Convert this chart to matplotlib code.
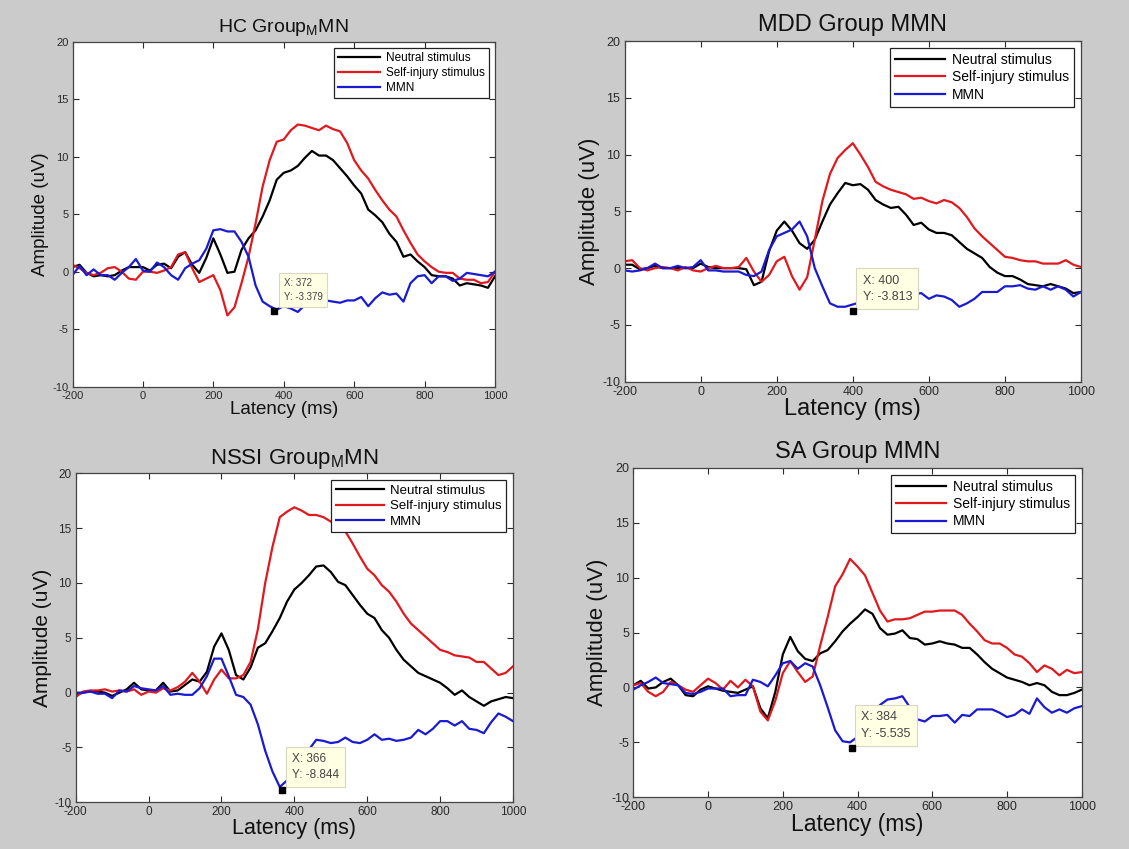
import matplotlib
matplotlib.use("Agg")
import matplotlib.pyplot as plt

plt.rcParams['font.family'] = ['Liberation Sans', 'DejaVu Sans']
plt.rcParams['axes.unicode_minus'] = False

# ---------------- data ----------------
latency_ms = list(range(-200, 1001, 20))
x_ticks = [-200, 0, 200, 400, 600, 800, 1000]
y_ticks = [-10, -5, 0, 5, 10, 15, 20]
series_labels = ["Neutral stimulus", "Self-injury stimulus", "MMN"]
panel_titles = ["HC Group$_\\mathregular{M}$MN", "MDD Group MMN",
                "NSSI Group$_\\mathregular{M}$MN", "SA Group MMN"]

hc_neutral = [0.4, 0.6, -0.1, -0.4, -0.3, -0.4, -0.3, 0.1, 0.4, 0.4,
              0.4, 0.1, 0.6, 0.7, 0.3, 1.3, 1.7, 0.6, -0.1, 1.2,
              2.9, 1.5, -0.1, 0.0, 1.9, 2.9, 3.6, 4.8, 6.2, 8.0,
              8.6, 8.8, 9.2, 9.9, 10.5, 10.1, 10.1, 9.7, 9.0, 8.3,
              7.5, 6.8, 5.4, 4.9, 4.3, 3.3, 2.6, 1.3, 1.5, 0.9,
              0.4, -0.3, -0.4, -0.4, -0.6, -1.2, -1.0, -1.1, -1.2, -1.4,
              -0.4]
hc_selfinjury = [0.6, 0.3, -0.1, -0.3, -0.1, 0.3, 0.4, 0.0, -0.6, -0.7,
                 0.0, 0.0, -0.1, 0.1, 0.4, 1.5, 1.7, 0.3, -0.9, -0.6,
                 -0.3, -1.6, -3.8, -3.1, -1.0, 1.3, 4.2, 7.4, 9.7, 11.3,
                 11.5, 12.3, 12.8, 12.7, 12.5, 12.3, 12.7, 12.4, 12.2, 11.2,
                 9.7, 8.8, 8.1, 7.1, 6.2, 5.4, 4.8, 3.6, 2.5, 1.5,
                 0.9, 0.4, 0.0, -0.1, -0.1, -0.6, -0.7, -0.7, -1.0, -0.9,
                 0.0]
hc_mmn = [-0.3, 0.5, -0.3, 0.2, -0.3, -0.3, -0.7, -0.1, 0.4, 1.1,
          0.1, 0.0, 0.8, 0.4, -0.3, -0.7, 0.3, 0.7, 1.0, 2.0,
          3.6, 3.7, 3.5, 3.5, 2.6, 1.3, -1.2, -2.6, -3.0, -3.3,
          -3.0, -3.2, -3.5, -2.9, -2.7, -2.6, -2.5, -2.6, -2.7, -2.5,
          -2.5, -2.2, -3.0, -2.3, -1.8, -2.0, -1.9, -2.6, -1.0, -0.4,
          -0.3, -1.0, -0.4, -0.4, -0.8, -0.6, -0.1, -0.2, -0.3, -0.4,
          0.0]

mdd_neutral = [0.3, 0.3, -0.1, 0.0, 0.2, 0.0, 0.0, 0.0, 0.0, 0.0,
               0.4, 0.1, 0.0, 0.0, 0.0, 0.0, -0.1, -1.5, -1.2, 1.5,
               3.3, 4.1, 3.3, 2.2, 1.7, 2.5, 4.1, 5.6, 6.6, 7.5,
               7.3, 7.4, 6.9, 6.0, 5.6, 5.3, 5.4, 4.7, 3.8, 4.0,
               3.4, 3.1, 3.1, 2.9, 2.3, 1.7, 1.3, 0.9, 0.1, -0.4,
               -0.7, -0.7, -1.0, -1.4, -1.5, -1.6, -1.4, -1.6, -1.8, -2.2,
               -2.1]
mdd_selfinjury = [0.6, 0.7, 0.0, -0.2, 0.0, 0.1, 0.0, -0.2, 0.1, -0.2,
                  -0.3, 0.0, 0.2, 0.0, 0.0, 0.1, 0.9, -0.3, -1.2, -0.6,
                  0.6, 1.0, -0.7, -1.9, -0.8, 2.5, 5.9, 8.3, 9.7, 10.4,
                  11.0, 10.0, 8.9, 7.6, 7.2, 6.9, 6.7, 6.5, 6.1, 6.2,
                  5.9, 5.7, 6.0, 5.8, 5.3, 4.5, 3.5, 2.8, 2.2, 1.6,
                  1.0, 0.9, 0.7, 0.6, 0.6, 0.4, 0.4, 0.4, 0.7, 0.3,
                  0.1]
mdd_mmn = [-0.2, -0.3, -0.2, 0.0, 0.4, 0.0, 0.0, 0.2, 0.0, 0.1,
           0.7, -0.2, -0.2, -0.3, -0.3, -0.3, -0.6, -0.7, -0.3, 1.6,
           2.8, 3.1, 3.4, 4.1, 2.8, 0.0, -1.6, -3.1, -3.4, -3.4,
           -3.2, -3.0, -2.8, -2.6, -2.5, -2.4, -2.6, -2.4, -2.3, -2.2,
           -2.7, -2.4, -2.5, -2.8, -3.4, -3.1, -2.7, -2.1, -2.1, -2.1,
           -1.6, -1.6, -1.5, -1.8, -1.9, -1.6, -1.9, -1.6, -1.9, -2.5,
           -2.1]

nssi_neutral = [-0.2, 0.0, 0.1, 0.1, 0.0, -0.3, 0.0, 0.3, 0.9, 0.3,
                0.2, 0.2, 0.9, 0.1, 0.2, 0.7, 1.2, 1.0, 1.9, 4.2,
                5.4, 3.9, 1.6, 1.2, 2.3, 4.1, 4.5, 5.6, 6.8, 8.3,
                9.4, 10.0, 10.7, 11.5, 11.6, 11.0, 10.1, 9.8, 8.9, 8.0,
                7.2, 6.8, 5.7, 5.0, 3.9, 3.0, 2.4, 1.8, 1.5, 1.2,
                0.9, 0.4, -0.2, 0.2, -0.4, -0.8, -1.2, -0.8, -0.6, -0.4,
                -0.5]
nssi_selfinjury = [-0.4, 0.1, 0.2, 0.2, 0.3, 0.1, 0.2, 0.1, 0.3, -0.2,
                   0.1, 0.0, 0.4, 0.2, 0.5, 1.0, 1.8, 1.0, -0.1, 1.2,
                   2.1, 1.3, 1.3, 1.6, 2.8, 5.8, 10.0, 13.3, 16.0, 16.5,
                   16.9, 16.6, 16.2, 16.2, 16.0, 15.6, 15.3, 14.7, 13.6, 12.4,
                   11.3, 10.7, 9.8, 9.2, 8.3, 7.2, 6.3, 5.7, 5.1, 4.5,
                   3.9, 3.7, 3.4, 3.3, 3.2, 2.8, 2.8, 2.2, 1.6, 1.8,
                   2.4]
nssi_mmn = [0.0, 0.0, 0.1, -0.1, -0.1, -0.5, 0.2, 0.1, 0.6, 0.4,
            0.3, 0.2, 0.6, -0.2, -0.1, -0.2, -0.2, 0.4, 1.5, 3.1,
            3.1, 1.5, -0.2, -0.4, -1.1, -2.9, -5.3, -7.2, -8.6, -8.0,
            -7.0, -6.0, -5.2, -4.3, -4.4, -4.6, -4.5, -4.1, -4.5, -4.6,
            -4.3, -3.8, -4.3, -4.2, -4.4, -4.3, -4.1, -3.4, -3.8, -3.3,
            -2.6, -2.6, -3.0, -2.6, -3.3, -3.4, -3.7, -2.7, -1.9, -2.2,
            -2.6]

sa_neutral = [0.2, 0.6, -0.1, 0.0, 0.5, 0.8, 0.2, -0.7, -0.8, -0.2,
              0.1, -0.1, -0.3, -0.4, -0.5, -0.2, 0.1, -1.9, -2.8, -0.4,
              3.0, 4.6, 3.3, 2.6, 2.4, 3.1, 3.4, 4.2, 5.1, 5.8,
              6.4, 7.1, 6.7, 5.4, 4.8, 4.9, 5.2, 4.5, 4.4, 3.9,
              4.0, 4.2, 4.0, 3.9, 3.6, 3.6, 3.0, 2.3, 1.7, 1.3,
              0.9, 0.7, 0.5, 0.2, 0.4, 0.2, -0.4, -0.7, -0.7, -0.5,
              -0.2]
sa_selfinjury = [0.2, 0.4, -0.4, -0.8, -0.4, 0.5, 0.2, -0.2, -0.4, 0.2,
                 0.8, 0.4, -0.2, 0.6, 0.0, 0.7, 0.1, -2.2, -3.0, -1.2,
                 1.3, 2.4, 1.4, 0.5, 1.0, 3.8, 6.4, 9.2, 10.3, 11.7,
                 11.0, 10.2, 8.6, 7.0, 6.0, 6.2, 6.2, 6.3, 6.6, 6.9,
                 6.9, 7.0, 7.0, 7.0, 6.6, 5.8, 5.1, 4.3, 4.0, 4.0,
                 3.6, 3.0, 2.8, 2.2, 1.4, 2.0, 1.7, 1.1, 1.6, 1.3,
                 1.4]
sa_mmn = [-0.2, 0.2, 0.5, 0.9, 0.4, 0.3, 0.2, -0.5, -0.6, -0.4,
          -0.1, -0.1, -0.1, -0.8, -0.7, -0.7, 0.7, 0.5, 0.1, 1.1,
          2.2, 2.4, 1.7, 2.2, 1.9, 0.2, -1.8, -3.9, -4.9, -5.0,
          -4.5, -3.5, -2.5, -1.6, -1.1, -1.0, -0.8, -1.8, -2.9, -3.1,
          -2.6, -2.6, -2.5, -3.2, -2.5, -2.6, -2.0, -2.0, -2.0, -2.3,
          -2.7, -2.5, -2.0, -2.4, -1.0, -1.8, -2.3, -2.0, -2.3, -1.9,
          -1.7]

datatip_x = [372, 400, 366, 384]
datatip_y = [-3.379, -3.813, -8.844, -5.535]

# ---------------- layout ----------------
W, H = 1129, 849
fig = plt.figure(figsize=(W / 100, H / 100), dpi=100)
fig.patch.set_facecolor('#cbcbcb')

boxes_px = [(72.5, 41.7, 495.0, 386.7),
            (624.6, 41.0, 1081.0, 381.7),
            (75.7, 473.3, 513.0, 802.3),
            (633.3, 467.7, 1081.8, 797.3)]
panels = [(hc_neutral, hc_selfinjury, hc_mmn),
          (mdd_neutral, mdd_selfinjury, mdd_mmn),
          (nssi_neutral, nssi_selfinjury, nssi_mmn),
          (sa_neutral, sa_selfinjury, sa_mmn)]
# font sizes: title, ylabel, xlabel, ticks, legend, datatip
fsizes = [(14, 13.5, 13.5, 8, 8.5, 7),
          (17, 16, 17, 9, 10, 9),
          (16, 15, 15.5, 8.5, 9.5, 8.5),
          (17, 16, 16.5, 9, 10, 9)]
colors = ['#000000', '#e0191e', '#1a1ad2']

for i, (bx, series) in enumerate(zip(boxes_px, panels)):
    l, t, r, b = bx
    ax = fig.add_axes([l / W, 1 - b / H, (r - l) / W, (b - t) / H])
    ax.set_facecolor('white')
    fs_t, fs_yl, fs_xl, fs_tk, fs_lg, fs_dt = fsizes[i]
    for y, c, lab in zip(series, colors, series_labels):
        ax.plot(latency_ms, y, color=c, lw=1.6, label=lab, zorder=2)
    ax.set_xlim(-200, 1000)
    ax.set_ylim(-10, 20)
    ax.set_xticks(x_ticks)
    ax.set_yticks(y_ticks)
    ax.tick_params(direction='in', top=True, right=True, length=4,
                   width=0.8, labelsize=fs_tk, colors='#2a2a2a', pad=3)
    for sp in ax.spines.values():
        sp.set_color('#444444')
        sp.set_linewidth(0.9)
    ax.set_title(panel_titles[i], fontsize=fs_t, color='#111111', pad=7)
    ax.set_ylabel("Amplitude (uV)", fontsize=fs_yl, color='#111111', labelpad=2)
    ax.set_xlabel("Latency (ms)", fontsize=fs_xl, color='#111111', labelpad=0)
    leg = ax.legend(loc='upper right', fontsize=fs_lg, handlelength=3.6,
                    handletextpad=0.5, labelspacing=0.25, borderpad=0.35,
                    borderaxespad=0.5, fancybox=False, framealpha=1)
    leg.get_frame().set_edgecolor('#222222')
    leg.get_frame().set_linewidth(0.9)
    # data tip
    dx, dy = datatip_x[i], datatip_y[i]
    ax.plot([dx], [dy], marker='s', color='black', markersize=5, zorder=6)
    ax.annotate("X: %d\nY: %s" % (dx, ("%.3f" % dy)), xy=(dx, dy),
                xytext=(7, 6), textcoords='offset points', ha='left',
                va='bottom', fontsize=fs_dt, color='#444444', zorder=5,
                linespacing=1.5,
                bbox=dict(boxstyle='square,pad=0.5', fc='#ffffe4',
                          ec='#d8d8c0', lw=0.8))

fig.savefig('out.png', dpi=100, facecolor=fig.get_facecolor())
